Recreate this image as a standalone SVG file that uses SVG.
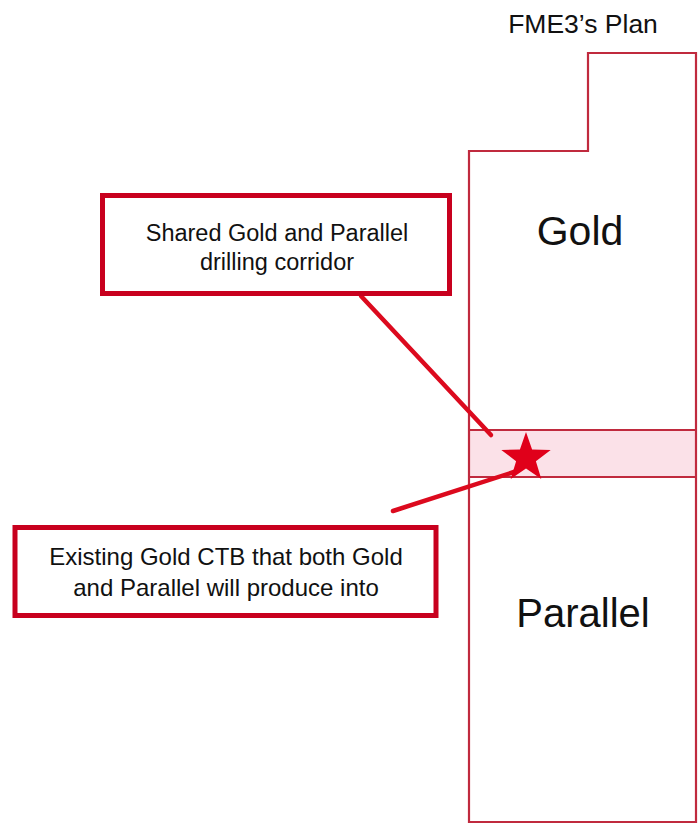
<svg xmlns="http://www.w3.org/2000/svg" width="698" height="826" viewBox="0 0 698 826">
<style>
.lbl{font-family:"Liberation Sans",Arial,sans-serif;fill:#111;text-anchor:middle}
.box{fill:#fff;stroke:#c8001e;stroke-width:5}
.plan{fill:none;stroke:#c02a3e;stroke-width:2.2}
.conn{stroke:#dc0a1e;stroke-width:4.5;stroke-linecap:round;fill:none}
</style>
<rect width="698" height="826" fill="#fff"/>
<g id="title"><text class="lbl" x="583" y="33" font-size="26.5">FME3’s Plan</text></g>
<g id="plan">
<rect x="469" y="430" width="227" height="47" fill="#fbe1e8" stroke="none"/>
<path class="plan" d="M469,822 V151 H588 V53 H696 V822 Z"/>
<line class="plan" x1="469" y1="430" x2="696" y2="430"/>
<line class="plan" x1="469" y1="477" x2="696" y2="477"/>
</g>
<g id="gold"><text class="lbl" x="580" y="245" font-size="41">Gold</text></g>
<g id="parallel"><text class="lbl" x="583" y="627" font-size="40">Parallel</text></g>
<g id="connectors">
<line class="conn" x1="361" y1="296" x2="491" y2="435"/>
<line class="conn" x1="393" y1="511" x2="517" y2="471"/>
</g>
<g id="star"><polygon fill="#e0001a" points="526,432 532.1,449.6 550.7,450 535.9,461.2 541.3,479 526,468.4 510.7,479 516.1,461.2 501.3,450 519.9,449.6"/></g>
<g id="corridor-box">
<rect class="box" x="102.5" y="195.5" width="347" height="98"/>
<text class="lbl" x="277" y="241" font-size="23.5">Shared Gold and Parallel</text>
<text class="lbl" x="277" y="270" font-size="23.5">drilling corridor</text>
</g>
<g id="ctb-box">
<rect class="box" x="15" y="527.5" width="421" height="88"/>
<text class="lbl" x="226" y="565" font-size="24">Existing Gold CTB that both Gold</text>
<text class="lbl" x="226" y="596" font-size="24">and Parallel will produce into</text>
</g>
</svg>
